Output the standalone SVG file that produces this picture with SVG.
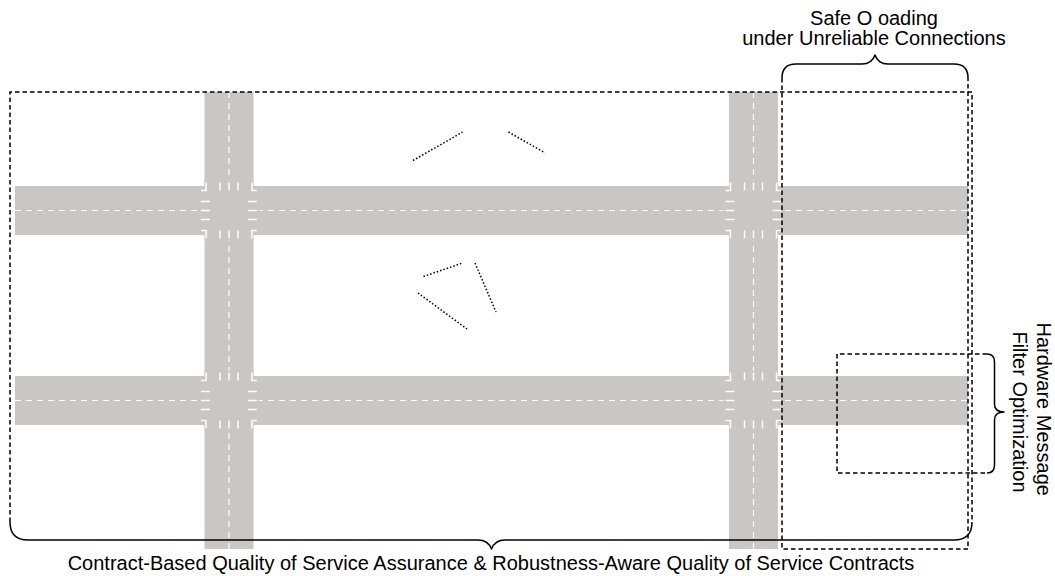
<svg xmlns="http://www.w3.org/2000/svg" xmlns:xlink="http://www.w3.org/1999/xlink" width="1055" height="576" viewBox="0 0 1055 576">
  <style>
    .road { fill: #c9c6c4; }
    .lane { stroke: #ffffff; stroke-width: 1.2; stroke-dasharray: 6 5; fill: none; }
    .mark { stroke: #ffffff; stroke-width: 1.5; fill: none; }
    .region { stroke: #000000; stroke-width: 1.5; stroke-dasharray: 4.5 3; fill: none; }
    .brace { stroke: #000000; stroke-width: 1.5; fill: none; stroke-linejoin: round; }
    .dots { stroke: #000000; stroke-width: 1.5; stroke-dasharray: 1.5 2; fill: none; }
    .label { font-family: "Liberation Sans", Arial, Helvetica, sans-serif; font-size: 20px; fill: #000000; text-anchor: middle; }
  </style>
  <defs>
    <!-- gray patch that hides the lane dashes inside a crossing -->
    <g id="xing-cover" class="road">
      <rect x="-30" y="-24.5" width="60" height="49"/>
      <rect x="-24.5" y="-30" width="49" height="60"/>
    </g>
    <!-- crosswalk stripes and stop corners around a crossing centre -->
    <g id="xing-marks" class="mark">
      <path d="M-9,-28 V-20 M0,-28 V-20 M9,-28 V-20"/>
      <path d="M-9,20 V28 M0,20 V28 M9,20 V28"/>
      <path d="M-28,-9 H-19 M-28,0 H-19 M-28,9 H-19"/>
      <path d="M19,-9 H28 M19,0 H28 M19,9 H28"/>
      <path d="M-28,-20 H-23 V-28"/>
      <path d="M23,-28 V-20 H28"/>
      <path d="M-28,20 H-23 V28"/>
      <path d="M23,28 V20 H28"/>
    </g>
  </defs>

  <!-- street grid -->
  <g id="streets">
    <rect class="road" x="15" y="186" width="953" height="49"/>
    <rect class="road" x="15" y="376" width="953" height="49"/>
    <rect class="road" x="204.5" y="92" width="49" height="457"/>
    <rect class="road" x="729" y="92" width="49" height="457"/>
    <g id="lane-lines">
      <line class="lane" x1="15" y1="210.5" x2="968" y2="210.5"/>
      <line class="lane" x1="15" y1="400.5" x2="968" y2="400.5"/>
      <line class="lane" x1="229" y1="92" x2="229" y2="549"/>
      <line class="lane" x1="753.5" y1="92" x2="753.5" y2="549"/>
    </g>
    <g id="crossings">
      <use xlink:href="#xing-cover" x="229" y="210.5"/>
      <use xlink:href="#xing-cover" x="753.5" y="210.5"/>
      <use xlink:href="#xing-cover" x="229" y="400.5"/>
      <use xlink:href="#xing-cover" x="753.5" y="400.5"/>
      <use xlink:href="#xing-marks" x="229" y="210.5"/>
      <use xlink:href="#xing-marks" x="753.5" y="210.5"/>
      <use xlink:href="#xing-marks" x="229" y="400.5"/>
      <use xlink:href="#xing-marks" x="753.5" y="400.5"/>
    </g>
  </g>

  <!-- dotted links between vehicles -->
  <g id="connectors">
    <line class="dots" x1="413" y1="160.5" x2="462.5" y2="132"/>
    <line class="dots" x1="508.5" y1="132" x2="545" y2="153"/>
    <line class="dots" x1="423.5" y1="276.5" x2="462.5" y2="263"/>
    <line class="dots" x1="475" y1="263" x2="496" y2="312"/>
    <line class="dots" x1="418" y1="293" x2="467" y2="329"/>
  </g>

  <!-- whole-scene region: Contract-Based QoS -->
  <g id="qos-region">
    <path class="region" d="M10,522 V92 H972 V522"/>
    <path class="brace" d="M10,522 Q10,540 28,540 H478 Q488,540 491.5,549 Q495,540 505,540 H954 Q972,540 972,522"/>
    <text class="label" x="491" y="570">Contract-Based Quality of Service Assurance &amp; Robustness-Aware Quality of Service Contracts</text>
  </g>

  <!-- safe offloading region -->
  <g id="offloading-region">
    <path class="region" d="M782,78 V549 H968 V78"/>
    <path class="brace" d="M782,78 Q782,64 796,64 H862 Q872,64 875,55 Q878,64 888,64 H954 Q968,64 968,78"/>
    <text class="label" x="874" y="25">Safe O oading</text>
    <text class="label" x="874" y="45">under Unreliable Connections</text>
  </g>

  <!-- hardware message filter region -->
  <g id="filter-region">
    <path class="region" d="M987,354 H837 V473 H987"/>
    <path class="brace" d="M987,354 Q994.5,354 994.5,362 V404 Q994.5,412 1004,412 Q994.5,412 994.5,420 V465 Q994.5,473 987,473"/>
    <text class="label" transform="translate(1037,412) rotate(90)">
      <tspan x="0" y="0">Hardware Message</tspan>
      <tspan x="0" y="24">Filter Optimization</tspan>
    </text>
  </g>
</svg>
